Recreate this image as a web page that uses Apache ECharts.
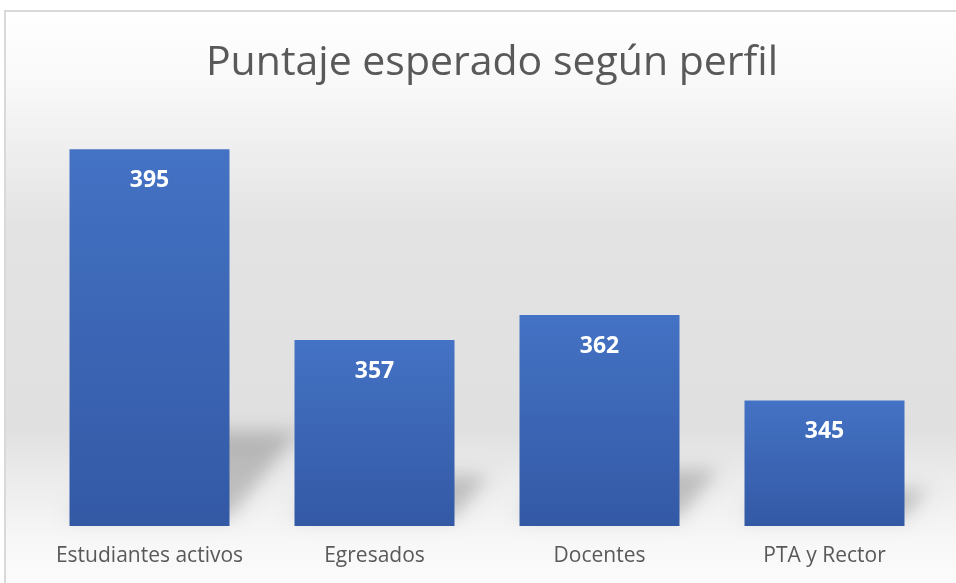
<!DOCTYPE html>
<html>
<head>
<meta charset="utf-8">
<script src="https://cdn.jsdelivr.net/npm/echarts@6/dist/echarts.min.js"></script>
<style>html,body{margin:0;padding:0;background:#fff;}#main{width:956px;height:583px;}</style>
</head>
<body>
<div id="main"></div>
<script>
const categories = ['Estudiantes activos', 'Egresados', 'Docentes', 'PTA y Rector'];
const values = [395, 357, 362, 345];
const titleText = 'Puntaje esperado según perfil';
const yMin = 320, yMax = 400;

const chart = echarts.init(document.getElementById('main'), null, {renderer: 'canvas'});
const FONT = '"Open Sans", "Liberation Sans", sans-serif';
const OFF = 3000;

chart.setOption({
  animation: false,
  graphic: [{
    type: 'rect', z: -10, silent: true,
    shape: {x: 5, y: 11, width: 960, height: 580},
    style: {
      stroke: '#d9d9d9', lineWidth: 2,
      fill: new echarts.graphic.LinearGradient(0, 0, 0, 1, [
        {offset: 0, color: '#ffffff'},
        {offset: 0.12, color: '#f9f9f9'},
        {offset: 0.21, color: '#f1f1f1'},
        {offset: 0.37, color: '#e3e3e3'},
        {offset: 0.72, color: '#e0e0e0'},
        {offset: 0.80, color: '#ebebeb'},
        {offset: 0.91, color: '#f7f7f7'},
        {offset: 1, color: '#fcfcfc'}
      ])
    }
  }],
  title: {
    text: titleText, left: 487, textAlign: 'center', top: 38,
    textStyle: {fontFamily: FONT, fontSize: 41, fontWeight: 'normal', color: '#595959'}
  },
  grid: {left: 37, width: 900, top: 124, bottom: 57},
  xAxis: {
    type: 'category', data: categories,
    axisLine: {show: false}, axisTick: {show: false},
    axisLabel: {interval: 0, fontFamily: FONT, fontSize: 21, color: '#595959', margin: 20}
  },
  yAxis: {
    type: 'value', min: yMin, max: yMax, show: false,
    splitLine: {show: false}
  },
  series: [{
    type: 'custom', z: 1, silent: true, clip: false,
    data: values.map((v, i) => [i, v]),
    renderItem: function (params, api) {
      const top = api.coord([api.value(0), api.value(1)]);
      const base = api.coord([api.value(0), yMin]);
      const w = api.size([1, 0])[0] * (160 / 225);
      const x0 = top[0] - w / 2, x1 = top[0] + w / 2;
      const h = base[1] - top[1];
      const hs = h * 0.23, s = hs * 0.8;
      const b = base[1] - 8;
      return {
        type: 'polygon',
        shape: {points: [[x0 - OFF, b], [x1 - OFF, b], [x1 + s - OFF, b - hs], [x0 + s - OFF, b - hs]]},
        style: {
          fill: '#000',
          shadowBlur: 18, shadowColor: 'rgba(0,0,0,0.2)', shadowOffsetX: OFF, shadowOffsetY: 0
        }
      };
    }
  }, {
    type: 'bar', z: 2,
    data: values,
    barWidth: 160,
    itemStyle: {
      color: new echarts.graphic.LinearGradient(0, 0, 0, 1, [
        {offset: 0, color: '#4472c4'},
        {offset: 1, color: '#3359a5'}
      ])
    },
    label: {
      show: true, position: 'insideTop', distance: 20,
      fontFamily: FONT, fontSize: 23, fontWeight: 'bold', color: '#ffffff'
    }
  }]
});
</script>
</body>
</html>
